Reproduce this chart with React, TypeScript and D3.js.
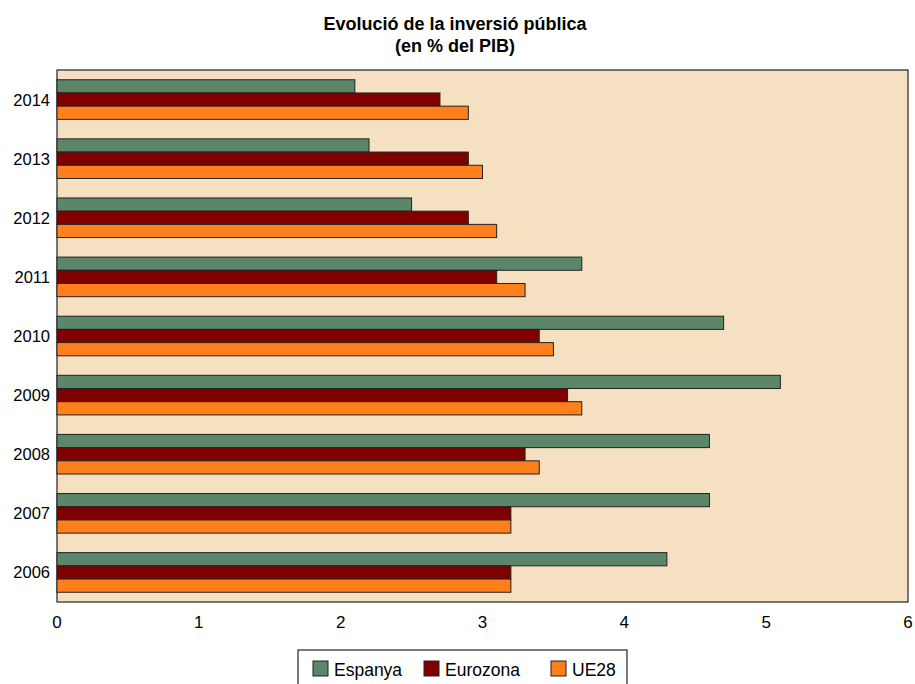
import React from "react";
import * as d3 from "d3";

const years = ["2014", "2013", "2012", "2011", "2010", "2009", "2008", "2007", "2006"];
const espanya = [2.1, 2.2, 2.5, 3.7, 4.7, 5.1, 4.6, 4.6, 4.3];
const eurozona = [2.7, 2.9, 2.9, 3.1, 3.4, 3.6, 3.3, 3.2, 3.2];
const ue28 = [2.9, 3.0, 3.1, 3.3, 3.5, 3.7, 3.4, 3.2, 3.2];
const seriesNames = ["Espanya", "Eurozona", "UE28"];
const seriesColors = ["#5B866A", "#800000", "#FF7F1C"];
const xTicks = [0, 1, 2, 3, 4, 5, 6];

export default function App() {
  const W = 915, H = 684;
  const left = 57, right = 908, top = 70, bottom = 602;
  const x = d3.scaleLinear().domain([0, 6]).range([left, right]);
  const y = d3.scaleBand().domain(years).range([top, bottom]).paddingInner(0.33).paddingOuter(0.165);
  const series = [espanya, eurozona, ue28];
  const sub = d3.scaleBand().domain(seriesNames).range([0, y.bandwidth()]);
  const font = "Arial, 'Liberation Sans', sans-serif";
  const legendItems = [
    { x: 313, name: seriesNames[0] },
    { x: 424, name: seriesNames[1] },
    { x: 551, name: seriesNames[2] },
  ];
  return (
    <svg width={W} height={H} style={{ position: "absolute", left: 0, top: 0, background: "#fff" }} fontFamily={font}>
      <text x={455} y={30} textAnchor="middle" fontSize={18} fontWeight="bold">Evolució de la inversió pública</text>
      <text x={455} y={52} textAnchor="middle" fontSize={18} fontWeight="bold">(en % del PIB)</text>
      <rect x={left} y={top} width={right - left} height={bottom - top} fill="#F5E1C2" stroke="#222" strokeWidth={1.2} />
      {years.map((yr, i) => (
        <g key={yr}>
          {series.map((s, j) => (
            <rect
              key={j}
              x={x(0)}
              y={(y(yr) as number) + (sub(seriesNames[j]) as number)}
              width={x(s[i]) - x(0)}
              height={sub.bandwidth()}
              fill={seriesColors[j]}
              stroke="#222"
              strokeWidth={1}
            />
          ))}
          <text x={50} y={(y(yr) as number) + y.bandwidth() / 2 + 6} textAnchor="end" fontSize={16.5}>{yr}</text>
        </g>
      ))}
      {xTicks.map((t) => (
        <text key={t} x={x(t)} y={628} textAnchor="middle" fontSize={17}>{t}</text>
      ))}
      <rect x={298} y={650} width={329} height={40} fill="#fff" stroke="#222" strokeWidth={1.2} />
      {legendItems.map((it, i) => (
        <g key={it.name}>
          <rect x={it.x} y={661} width={15} height={15} fill={seriesColors[i]} stroke="#222" strokeWidth={1} />
          <text x={it.x + 21} y={676} fontSize={17.5}>{it.name}</text>
        </g>
      ))}
    </svg>
  );
}
